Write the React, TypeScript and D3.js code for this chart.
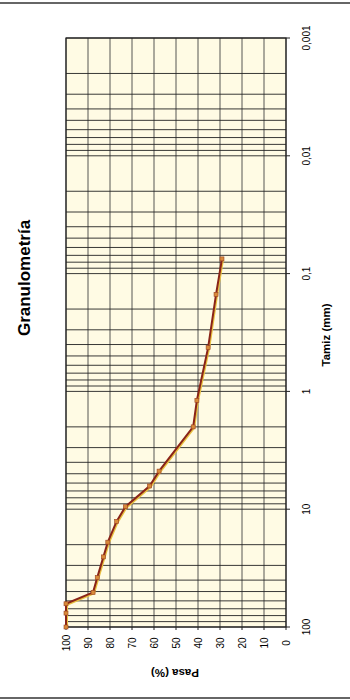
import React, { useEffect, useRef } from "react";
import * as d3 from "d3";

// sieve size (mm) and percent passing
const tamiz = [100, 76.2, 63.5, 50.8, 38.1, 25.4, 19.05, 12.7, 9.525, 6.35, 4.75, 2.0, 1.19, 0.425, 0.15, 0.075];
const pasa = [100, 100, 100, 87.7, 85.8, 83, 81, 77, 73, 62, 57.7, 42.2, 40.5, 35.4, 31.8, 29.1];
const pasaTicks = [100, 90, 80, 70, 60, 50, 40, 30, 20, 10, 0];
const tamizTicks = [100, 10, 1, 0.1, 0.01, 0.001];
const tamizLabels = ["100", "10", "1", "0,1", "0,01", "0,001"];

export default function App() {
  const ref = useRef<SVGSVGElement>(null);

  useEffect(() => {
    const svg = d3.select(ref.current);
    svg.selectAll("*").remove();

    const left = 66, right = 286, top = 38, bottom = 627;
    const font = "Liberation Sans, Arial, sans-serif";

    const x = d3.scaleLinear().domain([100, 0]).range([left, right]);
    const y = d3.scaleLog().domain([100, 0.001]).range([bottom, top]);

    // scan border lines
    svg.append("line").attr("x1", 0).attr("x2", 350).attr("y1", 3).attr("y2", 3)
      .attr("stroke", "#333").attr("stroke-width", 1.5);
    svg.append("line").attr("x1", 0).attr("x2", 350).attr("y1", 698).attr("y2", 698)
      .attr("stroke", "#333").attr("stroke-width", 1.5);

    // plot background
    svg.append("rect").attr("x", left).attr("y", top)
      .attr("width", right - left).attr("height", bottom - top)
      .attr("fill", "#fffbe4");

    const g = svg.append("g");

    // vertical grid (pasa)
    g.selectAll(".vgrid").data(pasaTicks).join("line")
      .attr("x1", d => x(d)).attr("x2", d => x(d))
      .attr("y1", top).attr("y2", bottom)
      .attr("stroke", "#444").attr("stroke-width", 0.9);

    // horizontal grid (log minor)
    g.selectAll(".hgrid").data(y.ticks()).join("line")
      .attr("x1", left).attr("x2", right)
      .attr("y1", d => y(d)).attr("y2", d => y(d))
      .attr("stroke", "#222").attr("stroke-width", 0.9);

    // frame
    svg.append("rect").attr("x", left).attr("y", top)
      .attr("width", right - left).attr("height", bottom - top)
      .attr("fill", "none").attr("stroke", "#222").attr("stroke-width", 1.2);

    // tamiz axis ticks + labels (right side)
    svg.selectAll(".tt").data(tamizTicks).join("line")
      .attr("x1", right).attr("x2", right + 4)
      .attr("y1", d => y(d)).attr("y2", d => y(d))
      .attr("stroke", "#222");
    svg.selectAll(".tl").data(tamizTicks).join("text")
      .attr("transform", d => `translate(${right + 20},${y(d)}) rotate(-90)`)
      .attr("text-anchor", "middle").attr("dominant-baseline", "central")
      .style("font-family", font).style("font-size", "10px")
      .text((d, i) => tamizLabels[i]);

    svg.append("text")
      .attr("transform", `translate(${right + 40},335) rotate(-90)`)
      .attr("text-anchor", "middle").attr("dominant-baseline", "central")
      .style("font-family", font).style("font-size", "11.5px").style("font-weight", "bold")
      .text("Tamiz (mm)");

    // pasa axis ticks + labels (bottom)
    svg.selectAll(".pt").data(pasaTicks).join("line")
      .attr("x1", d => x(d)).attr("x2", d => x(d))
      .attr("y1", bottom).attr("y2", bottom + 3)
      .attr("stroke", "#222");
    svg.selectAll(".pl").data(pasaTicks).join("text")
      .attr("transform", d => `translate(${x(d)},${bottom + 16}) rotate(-90)`)
      .attr("text-anchor", "middle").attr("dominant-baseline", "central")
      .style("font-family", font).style("font-size", "10px")
      .text(d => String(d));

    svg.append("text")
      .attr("transform", `translate(${(left + right) / 2 - 1},673) rotate(180)`)
      .attr("text-anchor", "middle").attr("dominant-baseline", "central")
      .style("font-family", font).style("font-size", "11.5px").style("font-weight", "bold")
      .text("Pasa (%)");

    // title
    svg.append("text")
      .attr("transform", `translate(24,278) rotate(-90)`)
      .attr("text-anchor", "middle").attr("dominant-baseline", "central")
      .style("font-family", font).style("font-size", "17px").style("font-weight", "bold")
      .text("Granulometría");

    // curve
    const pts: [number, number][] = tamiz.map((t, i) => [t, pasa[i]]);
    const line = d3.line<[number, number]>().x(d => x(d[1])).y(d => y(d[0]));
    svg.append("path").datum(pts).attr("d", line)
      .attr("fill", "none").attr("stroke", "#e8c040").attr("stroke-width", 2)
      .attr("transform", "translate(1,1)");
    svg.append("path").datum(pts).attr("d", line)
      .attr("fill", "none").attr("stroke", "#8a2418").attr("stroke-width", 2);
    svg.selectAll(".mk").data(pts).join("rect")
      .attr("x", d => x(d[1]) - 2).attr("y", d => y(d[0]) - 2)
      .attr("width", 4).attr("height", 4)
      .attr("fill", "#d88a3a").attr("stroke", "#9a4020").attr("stroke-width", 0.6);
  }, []);

  return (
    <svg ref={ref} width={350} height={700}
      style={{ position: "absolute", left: 0, top: 0, background: "#fff" }} />
  );
}
